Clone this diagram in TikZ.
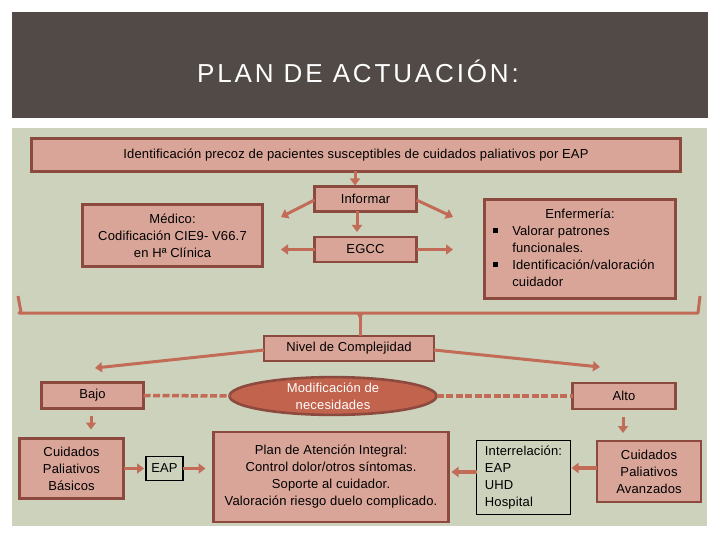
\documentclass[tikz,border=0pt]{standalone}
\usepackage{fontspec}
\setmainfont{Liberation Sans}[LetterSpace=1.2]
\usetikzlibrary{shapes.geometric,arrows.meta}
\definecolor{bandc}{HTML}{524A46}
\definecolor{panelc}{HTML}{CCD2BC}
\definecolor{boxc}{HTML}{D9A598}
\definecolor{bordc}{HTML}{8C4A3E}
\definecolor{arrc}{HTML}{C26C57}
\definecolor{ellc}{HTML}{C2634D}
\newcommand\sqbul{\rule[2.5pt]{4.5pt}{4.5pt}}
\begin{document}
\begin{tikzpicture}[x=1pt,y=-1pt,
  every node/.style={font=\fontsize{13}{17}\selectfont, inner sep=0pt, outer sep=0pt},
  box/.style={draw=bordc, line width=2.6pt, fill=boxc, align=center},
  plainbox/.style={draw=black, line width=1.8pt, fill=panelc, align=center},
  arr/.style={draw=arrc, line width=3pt, -{Triangle[length=7pt,width=10pt]}},
  dashc/.style={draw=arrc, line width=3.5pt, dash pattern=on 7pt off 2.5pt},
  bracec/.style={draw=arrc, line width=3pt},
]
\useasboundingbox (0,0) rectangle (720,540);
\fill[white] (0,0) rectangle (720,540);
\fill[bandc] (12,12) rectangle (708,118);
\fill[panelc] (12,128) rectangle (707,526);
\node[text=white, font=\fontsize{26}{30}\selectfont\addfontfeature{LetterSpace=11}] (title) at (358,71) {PLAN DE ACTUACIÓN:};

\node[box, minimum width=649, minimum height=33] (top) at (356,155) {Identificación precoz de pacientes susceptibles de cuidados paliativos por EAP};
\node[box, minimum width=102, minimum height=25] (inf) at (365.5,199) {Informar};
\node[box, minimum width=102, minimum height=25] (egcc) at (365.5,249.5) {EGCC};
\node[box, minimum width=180, minimum height=62] (med) at (172.5,235.5) {Médico:\\Codificación CIE9- V66.7\\en Hª Clínica};
\node[box, minimum width=191, minimum height=99] (enf) at (580,249) {\begin{tabular}{@{}l@{\hspace{14.5pt}}l@{\hspace{12pt}}}\multicolumn{2}{c}{Enfermería:}\\ \sqbul & Valorar patrones\\ & funcionales.\\ \sqbul & Identificación/valoración\\ & cuidador\end{tabular}};
\node[box, minimum width=170, minimum height=25] (nivel) at (349,348.5) {Nivel de Complejidad};
\node[box, minimum width=102, minimum height=26] (bajo) at (92.5,395.5) {Bajo};
\node[draw=bordc, line width=2.6pt, fill=ellc, ellipse, minimum width=207, minimum height=37, text=white, align=center] (ell) at (333,396) {Modificación de\\necesidades};
\node[box, minimum width=103, minimum height=26] (alto) at (624,396) {Alto};
\node[box, minimum width=104, minimum height=60] (cpb) at (71.5,468.5) {Cuidados\\Paliativos\\Básicos};
\node[plainbox, minimum width=37, minimum height=24] (eap) at (164.5,468.5) {EAP};
\node[box, minimum width=235, minimum height=90] (plan) at (331,477) {Plan de Atención Integral:\\Control dolor/otros síntomas.\\Soporte al cuidador.\\Valoración riesgo duelo complicado.};
\node[plainbox, minimum width=94, minimum height=74, align=left] (inter) at (523.5,477.5) {Interrelación:\\EAP\\UHD\\Hospital};
\node[box, minimum width=104, minimum height=61] (cpa) at (649,471.5) {Cuidados\\Paliativos\\Avanzados};

\coordinate (infL) at (281,217);
\coordinate (infR) at (453,217);
\coordinate (egL) at (281,249.5);
\coordinate (egR) at (453,249.5);
\coordinate (nivL) at (95,368);
\coordinate (nivR) at (600,367);
\coordinate (brA) at (18,296);
\coordinate (brB) at (21,312);
\coordinate (brC) at (698,313);
\coordinate (brD) at (700,296);
\coordinate (brM) at (360,313);

\draw[arr, shorten >=1pt] ([xshift=-1pt]top.south) -- ([xshift=-10.5pt]inf.north);
\draw[arr] ([yshift=-1pt]inf.west) -- (infL);
\draw[arr] ([yshift=-1pt]inf.east) -- (infR);
\draw[arr, shorten >=5pt] ([xshift=-8.5pt]inf.south) -- ([xshift=-8.5pt]egcc.north);
\draw[arr] (egcc.west) -- (egL);
\draw[arr] (egcc.east) -- (egR);

\draw[bracec, line join=round] (brA) -- (brB) -- ([xshift=-2pt]brB |- brC) -- (brC) -- (brD);
\draw[bracec] (brM) -- ([xshift=11pt]nivel.north);
\fill[arrc] ([xshift=-3.5pt]brM) -- ([xshift=3.5pt]brM) -- ([yshift=-7pt]brM) -- cycle;

\draw[arr] ([yshift=-1.5pt]nivel.west) -- (nivL);
\draw[arr] ([yshift=-1.5pt]nivel.east) -- (nivR);

\draw[dashc] (bajo.east) -- (ell.west);
\draw[dashc] (ell.east) -- (alto.west);

\draw[arr, shorten <=7pt, shorten >=9pt] ([xshift=-1.5pt]bajo.south) -- ([xshift=19.5pt]cpb.north);
\draw[arr, shorten <=8pt, shorten >=8pt] ([xshift=-1pt]alto.south) -- ([xshift=-26pt]cpa.north);

\draw[arr, line width=3.5pt, shorten >=2pt] (cpb.east) -- (eap.west);
\draw[arr, line width=3.5pt, shorten >=8pt] (eap.east) -- (eap.east -| plan.west);
\draw[arr, line width=3.5pt, shorten >=1pt] ([yshift=3.5pt]cpa.west) -- ([yshift=3.5pt]cpa.west -| inter.east);
\draw[arr, line width=3.5pt, shorten >=3pt] ([yshift=5.5pt]inter.west) -- ([yshift=5.5pt]inter.west -| plan.east);
\end{tikzpicture}
\end{document}
